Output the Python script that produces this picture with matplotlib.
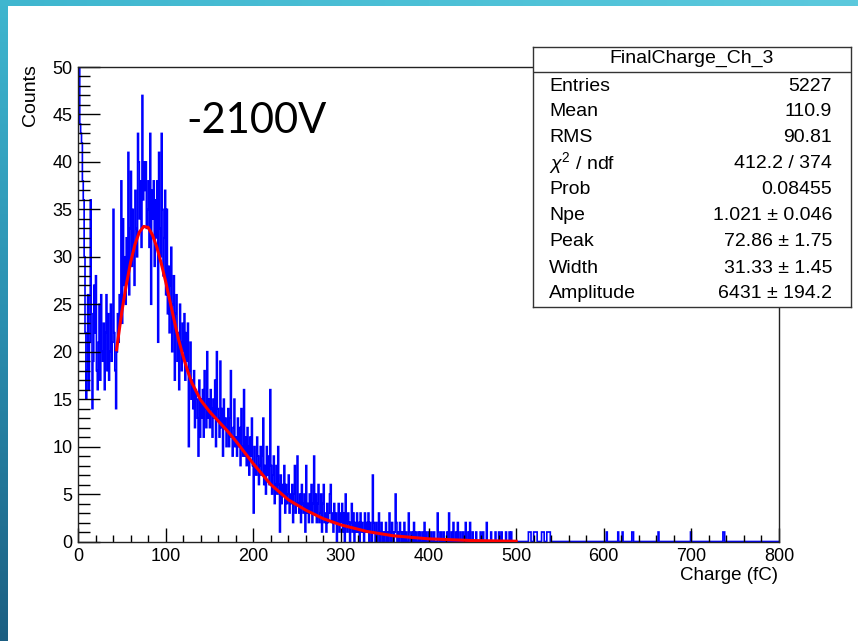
import numpy as np
import matplotlib
matplotlib.use("Agg")
import matplotlib.pyplot as plt
from matplotlib.ticker import MultipleLocator

plt.rcParams['font.family'] = ['Liberation Sans', 'DejaVu Sans']
plt.rcParams['mathtext.fontset'] = 'custom'
plt.rcParams['mathtext.rm'] = 'Liberation Sans'
plt.rcParams['mathtext.it'] = 'Liberation Sans:italic'

# histogram contents, 1 fC bins
counts_000 = [260, 55, 44, 43, 42, 38, 36, 30, 22, 15,
              18, 26, 16, 21, 36, 24, 14, 19, 27, 22,
              28, 18, 16, 21, 25, 17, 26, 20, 19, 23,
              16, 22, 26, 18, 24, 17, 20, 25, 19, 21,
              35, 22, 18, 14, 20, 24, 21, 26, 23, 38,
              23, 34, 27, 30, 25, 32, 28, 41, 26, 33,
              39, 29, 35, 31, 27, 37, 33, 30, 43, 40,
              34, 38, 31, 47, 36, 40, 37, 40, 33, 35,
              38, 31, 43, 25, 37, 34, 38, 29, 36, 32,
              38, 21, 41, 33, 30, 43, 35, 28, 32, 37]
counts_100 = [26, 35, 24, 29, 22, 27, 31, 20, 25, 28,
              17, 24, 26, 19, 22, 16, 25, 21, 18, 23,
              20, 24, 17, 22, 19, 23, 10, 18, 21, 15,
              17, 14, 18, 12, 16, 15, 13, 9, 17, 11,
              15, 13, 16, 11, 18, 14, 12, 20, 13, 15,
              12, 16, 14, 11, 15, 13, 17, 10, 20, 14,
              13, 11, 19, 12, 14, 9, 15, 12, 13, 10,
              12, 14, 10, 13, 18, 11, 9, 12, 15, 10,
              11, 9, 13, 10, 12, 8, 14, 10, 9, 16,
              9, 11, 8, 12, 10, 7, 11, 9, 13, 8]
counts_200 = [3, 10, 8, 7, 11, 9, 6, 8, 10, 7,
              9, 13, 6, 8, 5, 10, 7, 9, 6, 16,
              8, 5, 7, 9, 4, 6, 8, 5, 10, 6,
              1, 7, 4, 6, 5, 8, 3, 6, 4, 5,
              7, 3, 5, 4, 6, 2, 5, 8, 3, 4,
              9, 4, 3, 5, 2, 6, 4, 3, 5, 1,
              8, 3, 4, 2, 5, 3, 6, 2, 4, 9,
              3, 5, 2, 4, 6, 2, 3, 5, 1, 4,
              6, 2, 3, 1, 4, 2, 3, 5, 6, 2,
              3, 1, 4, 2, 3, 0, 2, 4, 1, 3]
counts_300 = [2, 4, 1, 3, 0, 5, 2, 1, 3, 2,
              0, 2, 4, 1, 3, 0, 2, 1, 3, 1,
              2, 0, 3, 1, 2, 1, 0, 3, 1, 2,
              1, 3, 0, 2, 1, 0, 7, 2, 1, 0,
              2, 0, 1, 3, 0, 1, 2, 0, 1, 0,
              1, 2, 0, 1, 0, 3, 1, 0, 2, 1,
              0, 1, 5, 2, 0, 1, 0, 2, 1, 0,
              1, 0, 2, 0, 1, 0, 0, 3, 1, 0,
              0, 1, 0, 2, 0, 1, 0, 0, 1, 0,
              1, 0, 0, 1, 0, 2, 0, 1, 0, 0]
counts_400 = [1, 0, 0, 1, 0, 0, 1, 0, 0, 0,
              3, 1, 0, 0, 1, 0, 0, 1, 0, 0,
              0, 1, 0, 3, 0, 0, 1, 0, 2, 0,
              0, 1, 0, 2, 0, 0, 1, 0, 0, 1,
              0, 0, 2, 0, 0, 1, 0, 2, 0, 0,
              1, 0, 0, 0, 1, 0, 0, 0, 0, 1,
              0, 0, 1, 0, 0, 0, 2, 0, 0, 0,
              0, 1, 0, 0, 0, 0, 1, 0, 0, 0,
              1, 0, 0, 1, 0, 0, 0, 0, 1, 0,
              0, 0, 1, 0, 1, 0, 0, 0, 0, 0]
# single entries further out (bin index = charge in fC)
tail_bins = [514, 515, 516, 520, 521, 522, 523, 529, 530, 531,
             535, 536, 537, 538, 603, 616, 621, 632, 633, 662, 699, 736, 737]

# fit curve
fit_x = [44, 50, 55, 60, 65, 70, 75, 80, 85, 90, 95, 100, 105, 110, 115, 120,
         125, 130, 140, 150, 160, 170, 180, 190, 200, 210, 220, 240, 260, 280,
         300, 330, 360, 400, 450, 500]
fit_y = [20.2, 24.2, 27.0, 29.4, 31.3, 32.6, 33.2, 33.1, 32.3, 31.0, 29.3, 27.4,
         25.3, 23.2, 21.2, 19.5, 18.0, 16.7, 14.9, 13.7, 12.7, 11.7, 10.6, 9.4,
         8.2, 7.1, 6.0, 4.4, 3.3, 2.4, 1.75, 1.05, 0.6, 0.28, 0.1, 0.03]

stats_labels = ['Entries', 'Mean', 'RMS', r'$\chi^{2}$ / ndf', 'Prob',
                'Npe', 'Peak', 'Width', 'Amplitude']
stats_values = ['5227', '110.9', '90.81', '412.2 / 374', '0.08455',
                '1.021 ± 0.046', '72.86 ± 1.75', '31.33 ± 1.45', '6431 ± 194.2']

counts = np.zeros(800)
low = counts_000 + counts_100 + counts_200 + counts_300 + counts_400
counts[:len(low)] = low
for b in tail_bins:
    counts[b] += 1
edges = np.arange(801)

W, H = 858, 641
fig = plt.figure(figsize=(W / 100, H / 100), dpi=100)
fig.patch.set_facecolor('white')

# slide decoration: teal strips on the left and top
left_bar = fig.add_axes([0, 0, 8 / W, 1])
left_bar.imshow(np.linspace(0, 1, 256).reshape(-1, 1), aspect='auto',
                cmap=matplotlib.colors.LinearSegmentedColormap.from_list(
                    'lb', ['#3fb6cf', '#2a8fb0', '#1c5f82']))
left_bar.axis('off')
top_bar = fig.add_axes([0, 1 - 6 / H, 1, 6 / H])
top_bar.imshow(np.linspace(0, 1, 256).reshape(1, -1), aspect='auto',
               cmap=matplotlib.colors.LinearSegmentedColormap.from_list(
                   'tb', ['#3fb6cf', '#4cc0d6', '#5cc9dd']))
top_bar.axis('off')

ax = fig.add_axes([78 / W, 1 - 541.5 / H, 701 / W, 474.5 / H])
ax.stairs(counts, edges, color='#0000ff', lw=1.2)
ax.plot(fit_x, fit_y, color='#ff0000', lw=2.2, zorder=3)

ax.set_xlim(0, 800)
ax.set_ylim(0, 50)
ax.xaxis.set_major_locator(MultipleLocator(100))
ax.xaxis.set_minor_locator(MultipleLocator(20))
ax.yaxis.set_major_locator(MultipleLocator(5))
ax.yaxis.set_minor_locator(MultipleLocator(1))
ax.tick_params(axis='x', which='major', direction='in', length=10, width=1, pad=5,
               labelsize=13)
ax.tick_params(axis='x', which='minor', direction='in', length=5, width=1)
ax.tick_params(axis='y', which='major', direction='in', length=16, width=1, pad=4,
               labelsize=13)
ax.tick_params(axis='y', which='minor', direction='in', length=8.5, width=1)
for s in ax.spines.values():
    s.set_linewidth(1)
    s.set_color('#222222')

fig.text(778 / W, 1 - 576 / H, 'Charge (fC)', ha='right', va='center', fontsize=13.5)
fig.text(30 / W, 1 - 64 / H, 'Counts', ha='center', va='top', rotation=90,
         fontsize=14)
fig.text(186 / W, 1 - 133 / H, '-2100V', ha='left', va='baseline', fontsize=30,
         family=['Lato', 'DejaVu Sans'])

# stats box
box = fig.add_axes([533 / W, 1 - 307 / H, 318 / W, 260 / H])
box.set_xlim(0, 1)
box.set_ylim(0, 1)
box.set_xticks([])
box.set_yticks([])
box.set_facecolor('white')
for s in box.spines.values():
    s.set_linewidth(1)
    s.set_color('#333333')
box.axhline((307 - 72) / 260, color='#333333', lw=1)
box.text(0.5, (307 - 58) / 260, 'FinalCharge_Ch_3', ha='center', va='center',
         fontsize=14)
row_y = [86.5, 111, 137, 163, 189.5, 215.5, 242, 268.5, 294]
for lab, val, y in zip(stats_labels, stats_values, row_y):
    box.text(16 / 318, (307 - y) / 260, lab, ha='left', va='center', fontsize=14)
    box.text(299 / 318, (307 - y) / 260, val, ha='right', va='center', fontsize=14)

fig.savefig('out.png', dpi=100)
